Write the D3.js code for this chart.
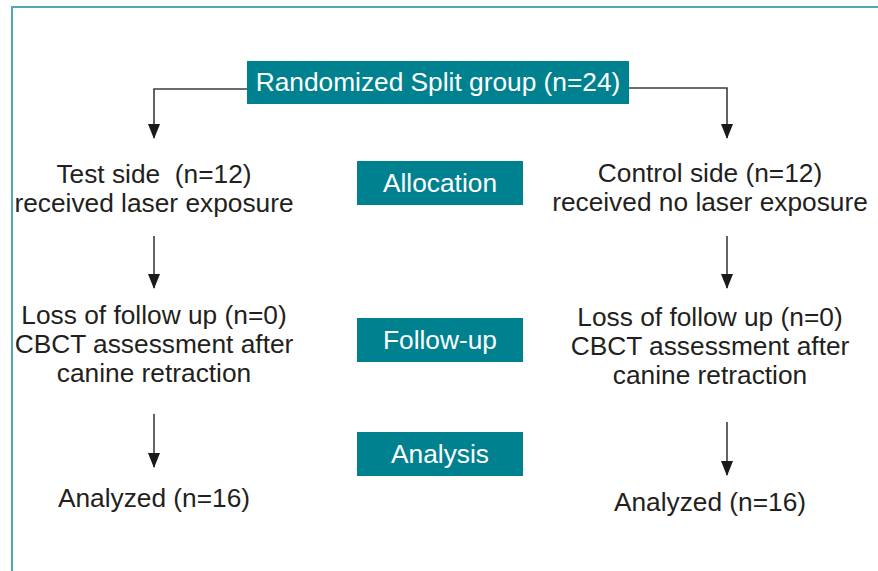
<!DOCTYPE html>
<html>
<head>
<meta charset="utf-8">
<script src="https://cdn.jsdelivr.net/npm/d3@7"></script>
<style>
  html, body { margin: 0; padding: 0; background: #fff; }
  svg { display: block; }
  text { font-family: "Liberation Sans", Arial, sans-serif; white-space: pre; }
</style>
</head>
<body>
<div id="chart"></div>
<script>
// ---- data ----
const totalN = 24;
const stages = ["Allocation", "Follow-up", "Analysis"];
const testLines = [["Test side  (n=12)", "received laser exposure"],
                   ["Loss of follow up (n=0)", "CBCT assessment after", "canine retraction"],
                   ["Analyzed (n=16)"]];
const controlLines = [["Control side (n=12)", "received no laser exposure"],
                      ["Loss of follow up (n=0)", "CBCT assessment after", "canine retraction"],
                      ["Analyzed (n=16)"]];
const rootLabel = `Randomized Split group (n=${totalN})`;

// ---- layout ----
const W = 878, H = 571;
const teal = "#00818f", border = "#4fa9b3", ink = "#231f20", lineC = "#3d3d3d";
const fs = 26.3, lineH = 29;

const svg = d3.select("#chart").append("svg").attr("width", W).attr("height", H);

// frame (top and left edges only visible)
svg.append("line").attr("x1", 11).attr("x2", W).attr("y1", 7).attr("y2", 7)
  .attr("stroke", border).attr("stroke-width", 2);
svg.append("line").attr("x1", 12).attr("x2", 12).attr("y1", 6).attr("y2", H)
  .attr("stroke", border).attr("stroke-width", 2);

const defs = svg.append("defs");
defs.append("marker").attr("id", "ah").attr("viewBox", "0 0 15 12")
  .attr("refX", 14).attr("refY", 6).attr("markerWidth", 15).attr("markerHeight", 12)
  .attr("markerUnits", "userSpaceOnUse").attr("orient", "auto")
  .append("path").attr("d", "M0,0 L15,6 L0,12 Z").attr("fill", "#1a1a1a");

// column scale
const col = d3.scaleOrdinal().domain(["test", "stage", "control"]).range([154, 440, 710]);
const arrowX = d3.scaleOrdinal().domain(["test", "control"]).range([154, 727]);

// root box
const root = { x0: 247, x1: 629, y0: 61, y1: 104 };
svg.append("rect").attr("x", root.x0).attr("y", root.y0)
  .attr("width", root.x1 - root.x0).attr("height", root.y1 - root.y0).attr("fill", teal);
svg.append("text").attr("x", (root.x0 + root.x1) / 2).attr("y", 91)
  .attr("text-anchor", "middle").attr("fill", "#fff").attr("font-size", fs).text(rootLabel);

// root connectors
const conn = d3.line();
svg.append("path").attr("d", conn([[root.x0, 89], [arrowX("test"), 89], [arrowX("test"), 138]]))
  .attr("fill", "none").attr("stroke", lineC).attr("stroke-width", 1.6).attr("marker-end", "url(#ah)");
svg.append("path").attr("d", conn([[root.x1, 88], [arrowX("control"), 88], [arrowX("control"), 138]]))
  .attr("fill", "none").attr("stroke", lineC).attr("stroke-width", 1.6).attr("marker-end", "url(#ah)");

// stage boxes
const stageY = d3.scaleOrdinal().domain(stages).range([161, 318, 432]);
const boxH = 44, boxX0 = 357, boxX1 = 523;
const sg = svg.selectAll("g.stage").data(stages).join("g").attr("class", "stage");
sg.append("rect").attr("x", boxX0).attr("y", d => stageY(d)).attr("width", boxX1 - boxX0)
  .attr("height", boxH).attr("fill", teal);
sg.append("text").attr("x", col("stage")).attr("y", d => stageY(d) + 31)
  .attr("text-anchor", "middle").attr("fill", "#fff").attr("font-size", fs).text(d => d);

// side text blocks
const testBase = [183, 324, 507];
const controlBase = [182, 326, 511];
function block(lines, bases, side) {
  lines.forEach((ls, i) => {
    svg.append("g").selectAll("text").data(ls).join("text")
      .attr("x", col(side)).attr("y", (d, j) => bases[i] + j * lineH)
      .attr("text-anchor", "middle").attr("fill", ink).attr("font-size", fs).text(d => d);
  });
}
block(testLines, testBase, "test");
block(controlLines, controlBase, "control");

// vertical arrows between blocks
const testArrows = [[236, 288], [414, 467]];
const controlArrows = [[236, 288], [422, 475]];
function arrows(list, side) {
  svg.append("g").selectAll("path").data(list).join("path")
    .attr("d", d => conn([[arrowX(side), d[0]], [arrowX(side), d[1]]]))
    .attr("stroke", lineC).attr("stroke-width", 1.6).attr("fill", "none")
    .attr("marker-end", "url(#ah)");
}
arrows(testArrows, "test");
arrows(controlArrows, "control");
</script>
</body>
</html>
